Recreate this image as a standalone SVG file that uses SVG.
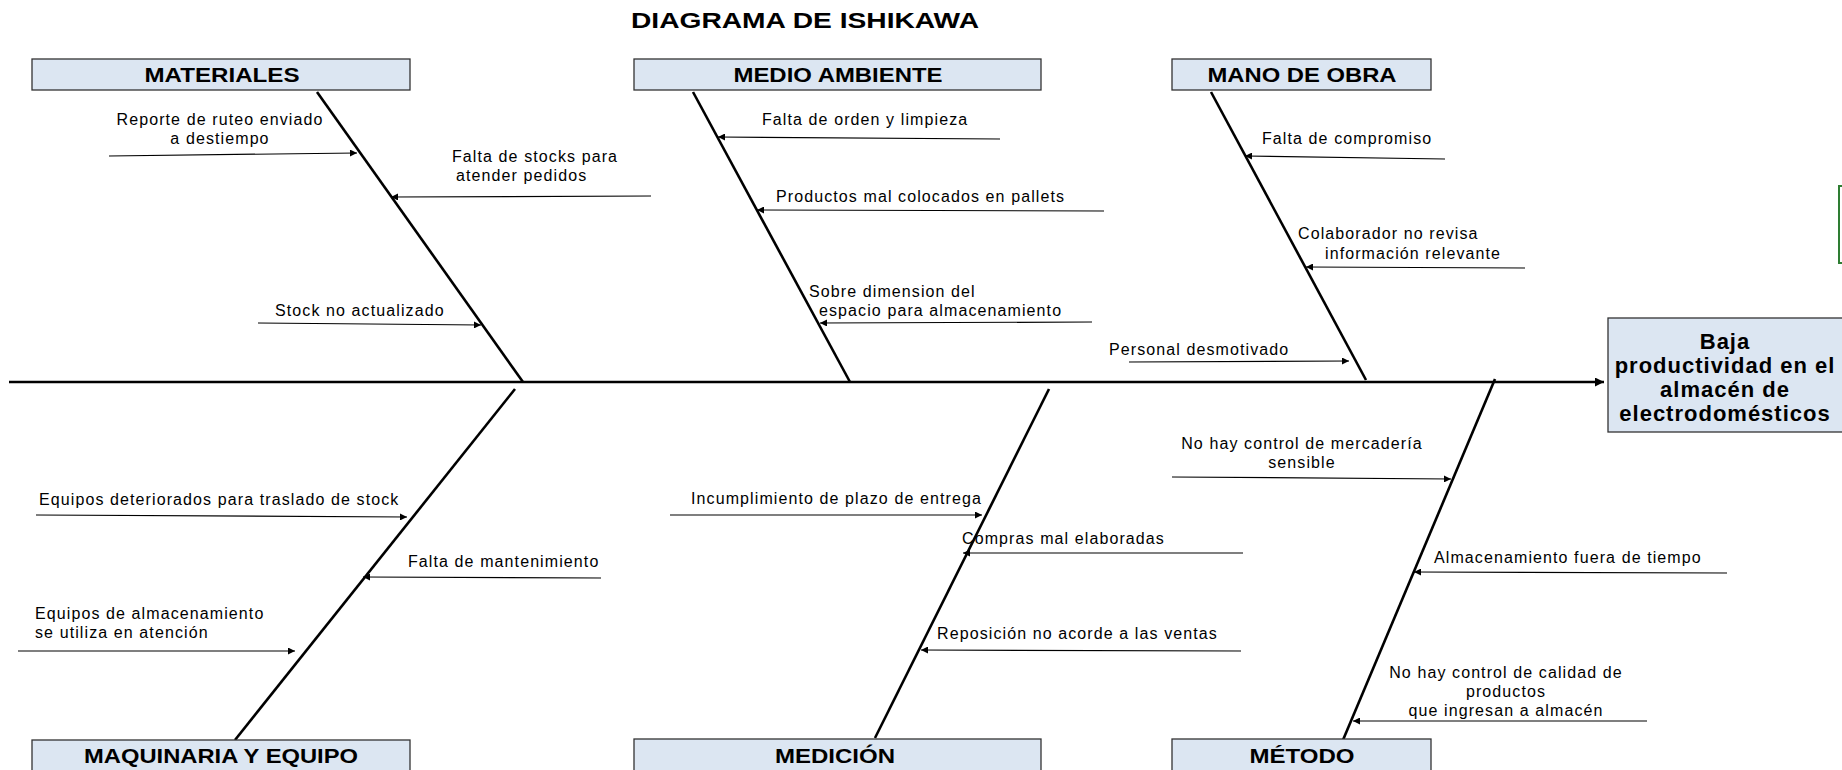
<svg xmlns="http://www.w3.org/2000/svg" width="1842" height="770" viewBox="0 0 1842 770">
<defs>
<style>
.box{fill:#dce6f2;stroke:#333;stroke-width:1.3}
.lbl{font-family:"Liberation Sans",Arial,sans-serif;font-weight:bold;font-size:20px;fill:#000;text-anchor:middle}
.eff{font-family:"Liberation Sans",Arial,sans-serif;font-weight:bold;font-size:22px;letter-spacing:1px;fill:#000;text-anchor:middle}
.t{font-family:"Liberation Sans",Arial,sans-serif;font-size:16px;letter-spacing:1.1px;fill:#000}
.m{text-anchor:middle}
.bone{stroke:#000;stroke-width:2.6;fill:none}
.ca{stroke:#000;stroke-width:1.2;fill:none;marker-end:url(#ah)}
</style>
<marker id="ah" viewBox="0 0 10 10" refX="10" refY="5" markerWidth="8" markerHeight="7" markerUnits="userSpaceOnUse" orient="auto"><path d="M0,0 L10,5 L0,10 z" fill="#000"/></marker>
<marker id="big" viewBox="0 0 10 10" refX="10" refY="5" markerWidth="9" markerHeight="9" markerUnits="userSpaceOnUse" orient="auto"><path d="M0,0 L10,5 L0,10 z" fill="#000"/></marker>
</defs>
<rect width="1842" height="770" fill="#fff"/>
<text x="805" y="28" font-family="Liberation Sans,Arial,sans-serif" font-weight="bold" font-size="22" text-anchor="middle" textLength="348" lengthAdjust="spacingAndGlyphs">DIAGRAMA DE ISHIKAWA</text>

<g id="connectors">
<line x1="9" y1="382" x2="1604" y2="382" stroke="#000" stroke-width="2.6" marker-end="url(#big)"/>
<line class="bone" x1="317" y1="92" x2="523" y2="382"/>
<line class="bone" x1="693" y1="92" x2="850" y2="382"/>
<line class="bone" x1="1211" y1="92" x2="1366" y2="380"/>
<line class="bone" x1="515" y1="389" x2="235" y2="740"/>
<line class="bone" x1="1049" y1="389" x2="875" y2="738"/>
<line class="bone" x1="1495" y1="379" x2="1343" y2="740"/>

<line class="ca" x1="109" y1="156" x2="357" y2="153"/>
<line class="ca" x1="651" y1="196" x2="391" y2="197"/>
<line class="ca" x1="258" y1="323" x2="481" y2="325"/>
<line class="ca" x1="1000" y1="139" x2="718" y2="137"/>
<line class="ca" x1="1104" y1="211" x2="757" y2="210"/>
<line class="ca" x1="1092" y1="322" x2="820" y2="323"/>
<line class="ca" x1="1445" y1="159" x2="1245" y2="156"/>
<line class="ca" x1="1525" y1="268" x2="1306" y2="267"/>
<line class="ca" x1="1129" y1="362" x2="1349" y2="361"/>
<line class="ca" x1="36" y1="515" x2="407" y2="517"/>
<line class="ca" x1="601" y1="578" x2="363" y2="577"/>
<line class="ca" x1="18" y1="651" x2="295" y2="651"/>
<line class="ca" x1="670" y1="515" x2="982" y2="515"/>
<line class="ca" x1="1243" y1="553" x2="963" y2="553"/>
<line class="ca" x1="1241" y1="651" x2="921" y2="650"/>
<line class="ca" x1="1172" y1="477" x2="1451" y2="479"/>
<line class="ca" x1="1727" y1="573" x2="1414" y2="572"/>
<line class="ca" x1="1647" y1="721" x2="1353" y2="721"/>
</g>

<g id="materiales"><rect class="box" x="32" y="59" width="378" height="31"/><text class="lbl" x="222" y="82" textLength="155" lengthAdjust="spacingAndGlyphs">MATERIALES</text></g>
<g id="medio-ambiente"><rect class="box" x="634" y="59" width="407" height="31"/><text class="lbl" x="838" y="82" textLength="209" lengthAdjust="spacingAndGlyphs">MEDIO AMBIENTE</text></g>
<g id="mano-de-obra"><rect class="box" x="1172" y="59" width="259" height="31"/><text class="lbl" x="1302" y="82" textLength="189" lengthAdjust="spacingAndGlyphs">MANO DE OBRA</text></g>
<g id="maquinaria"><rect class="box" x="32" y="740" width="378" height="34"/><text class="lbl" x="221" y="763" textLength="274" lengthAdjust="spacingAndGlyphs">MAQUINARIA Y EQUIPO</text></g>
<g id="medicion"><rect class="box" x="634" y="739" width="407" height="35" stroke-width="2.4"/><text class="lbl" x="835" y="763" textLength="120" lengthAdjust="spacingAndGlyphs">MEDICIÓN</text></g>
<g id="metodo"><rect class="box" x="1172" y="739" width="259" height="35"/><text class="lbl" x="1302" y="763" textLength="105" lengthAdjust="spacingAndGlyphs">MÉTODO</text></g>
<g id="efecto"><rect class="box" x="1608" y="318" width="240" height="114" stroke="#222"/>
<text class="eff" x="1725" y="349">Baja</text>
<text class="eff" x="1725" y="373">productividad en el</text>
<text class="eff" x="1725" y="397">almacén de</text>
<text class="eff" x="1725" y="421">electrodomésticos</text></g>
<g id="green-box"><rect x="1839" y="186" width="20" height="77" fill="none" stroke="#2e7d32" stroke-width="2"/></g>

<g id="causes">
<text class="t m" x="220" y="125">Reporte de ruteo enviado</text>
<text class="t m" x="220" y="144">a destiempo</text>
<text class="t" x="452" y="162">Falta de stocks para</text>
<text class="t" x="456" y="181">atender pedidos</text>
<text class="t" x="275" y="316">Stock no actualizado</text>
<text class="t" x="762" y="125">Falta de orden y limpieza</text>
<text class="t" x="776" y="202">Productos mal colocados en pallets</text>
<text class="t" x="809" y="297">Sobre dimension del</text>
<text class="t" x="819" y="316">espacio para almacenamiento</text>
<text class="t" x="1262" y="144">Falta de compromiso</text>
<text class="t" x="1298" y="239">Colaborador no revisa</text>
<text class="t" x="1325" y="259">información relevante</text>
<text class="t" x="1109" y="355">Personal desmotivado</text>
<text class="t" x="39" y="505">Equipos deteriorados para traslado de stock</text>
<text class="t" x="408" y="567">Falta de mantenimiento</text>
<text class="t" x="35" y="619">Equipos de almacenamiento</text>
<text class="t" x="35" y="638">se utiliza en atención</text>
<text class="t" x="691" y="504">Incumplimiento de plazo de entrega</text>
<text class="t" x="962" y="544">Compras mal elaboradas</text>
<text class="t" x="937" y="639">Reposición no acorde a las ventas</text>
<text class="t m" x="1302" y="449">No hay control de mercadería</text>
<text class="t m" x="1302" y="468">sensible</text>
<text class="t" x="1434" y="563">Almacenamiento fuera de tiempo</text>
<text class="t m" x="1506" y="678">No hay control de calidad de</text>
<text class="t m" x="1506" y="697">productos</text>
<text class="t m" x="1506" y="716">que ingresan a almacén</text>
</g>
</svg>
